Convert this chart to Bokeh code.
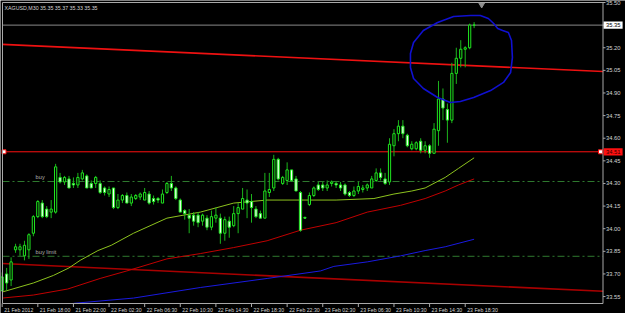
from bokeh.plotting import figure
from bokeh.models import Range1d, ColumnDataSource
from bokeh.core.properties import value
from bokeh.embed import file_html
from bokeh.resources import INLINE

# ---------------- data ----------------
chart_title = "XAGUSD,M30  35.35 35.37 35.33 35.35"

bar_high = [33.71, 33.74, 33.81, 33.90, 33.90, 33.92, 33.97, 34.09, 34.19, 34.19,
            34.15, 34.19, 34.43, 34.37, 34.35, 34.35, 34.34, 34.37, 34.39, 34.36,
            34.32, 34.35, 34.32, 34.28, 34.28, 34.27, 34.23, 34.23, 34.24, 34.23,
            34.23, 34.24, 34.27, 34.25, 34.22, 34.21, 34.26, 34.31, 34.35, 34.28,
            34.20, 34.13, 34.13, 34.11, 34.11, 34.10, 34.09, 34.12, 34.14, 34.10,
            34.08, 34.08, 34.15, 34.17, 34.27, 34.26, 34.23, 34.15, 34.12, 34.37,
            34.37, 34.49, 34.47, 34.35, 34.44, 34.39, 34.35, 34.25, 34.08, 34.24,
            34.28, 34.31, 34.31, 34.32, 34.32, 34.31, 34.31, 34.30, 34.25, 34.28,
            34.31, 34.29, 34.30, 34.35, 34.40, 34.40, 34.37, 34.60, 34.66, 34.72,
            34.72, 34.63, 34.58, 34.58, 34.60, 34.58, 34.56, 34.70, 34.98, 34.93,
            34.83, 35.10, 35.20, 35.25, 35.21, 35.36, 35.37]
bar_open = [33.59, 33.70, 33.66, 33.86, 33.86, 33.82, 33.86, 33.97, 34.08, 34.17,
            34.13, 34.11, 34.11, 34.34, 34.31, 34.33, 34.30, 34.29, 34.33, 34.35,
            34.30, 34.30, 34.30, 34.27, 34.23, 34.27, 34.14, 34.19, 34.22, 34.17,
            34.20, 34.21, 34.19, 34.23, 34.20, 34.20, 34.17, 34.24, 34.30, 34.27,
            34.19, 34.12, 34.09, 34.09, 34.09, 34.05, 34.07, 34.01, 34.07, 34.07,
            33.97, 34.05, 34.02, 34.10, 34.13, 34.19, 34.18, 34.13, 34.10, 34.07,
            34.24, 34.27, 34.46, 34.30, 34.32, 34.39, 34.33, 34.24, 34.075, 34.16,
            34.22, 34.29, 34.29, 34.27, 34.30, 34.30, 34.29, 34.29, 34.24, 34.22,
            34.25, 34.26, 34.27, 34.27, 34.32, 34.37, 34.33, 34.31, 34.55, 34.63,
            34.68, 34.62, 34.53, 34.53, 34.58, 34.52, 34.55, 34.50, 34.65, 34.86,
            34.79, 34.72, 35.03, 35.13, 35.19, 35.20, 35.35]
bar_close = [33.68, 33.64, 33.78, 33.88, 33.88, 33.89, 33.96, 34.08, 34.18, 34.08,
             34.08, 34.13, 34.41, 34.31, 34.34, 34.27, 34.29, 34.34, 34.37, 34.27,
             34.27, 34.34, 34.24, 34.24, 34.26, 34.14, 34.19, 34.22, 34.17, 34.21,
             34.22, 34.23, 34.24, 34.17, 34.18, 34.19, 34.23, 34.30, 34.27, 34.20,
             34.11, 34.10, 34.07, 34.05, 34.04, 34.09, 34.01, 34.08, 34.09, 33.97,
             34.06, 34.01, 34.10, 34.14, 34.20, 34.17, 34.14, 34.08, 34.07, 34.25,
             34.26, 34.46, 34.33, 34.34, 34.39, 34.32, 34.25, 33.99, 34.07, 34.22,
             34.27, 34.26, 34.27, 34.29, 34.31, 34.29, 34.27, 34.23, 34.22, 34.25,
             34.28, 34.27, 34.29, 34.33, 34.37, 34.34, 34.30, 34.56, 34.63, 34.68,
             34.63, 34.55, 34.56, 34.57, 34.52, 34.55, 34.50, 34.66, 34.86, 34.80,
             34.72, 35.03, 35.13, 35.19, 35.20, 35.35, 35.35]
bar_low = [33.58, 33.59, 33.62, 33.84, 33.82, 33.79, 33.80, 33.95, 34.07, 34.07,
           34.07, 34.07, 34.10, 34.30, 34.29, 34.27, 34.27, 34.27, 34.32, 34.27,
           34.27, 34.27, 34.23, 34.22, 34.21, 34.13, 34.13, 34.17, 34.17, 34.15,
           34.19, 34.19, 34.19, 34.16, 34.16, 34.17, 34.17, 34.23, 34.25, 34.19,
           34.11, 34.06, 33.97, 34.02, 34.01, 34.02, 33.99, 33.99, 34.04, 33.90,
           33.92, 33.94, 34.01, 33.97, 34.13, 34.07, 34.04, 34.07, 34.07, 34.07,
           34.21, 34.25, 34.32, 34.29, 34.29, 34.31, 34.25, 33.98, 34.065, 34.15,
           34.21, 34.25, 34.25, 34.25, 34.28, 34.27, 34.25, 34.22, 34.21, 34.21,
           34.23, 34.24, 34.25, 34.27, 34.31, 34.32, 34.29, 34.29, 34.48, 34.58,
           34.60, 34.54, 34.52, 34.52, 34.50, 34.50, 34.47, 34.50, 34.55, 34.72,
           34.57, 34.70, 34.96, 35.07, 35.07, 35.19, 35.33]

time_tick_index = [0, 8, 16, 24, 32, 40, 48, 56, 64, 72, 80, 88, 96, 104]
time_tick_labels = ["21 Feb 2012", "21 Feb 18:00", "21 Feb 22:00", "22 Feb 02:30",
                    "22 Feb 06:30", "22 Feb 10:30", "22 Feb 14:30", "22 Feb 18:30",
                    "22 Feb 22:30", "23 Feb 02:30", "23 Feb 06:30", "23 Feb 10:30",
                    "23 Feb 14:30", "23 Feb 18:30"]

price_ticks = [35.50, 35.35, 35.20, 35.05, 34.90, 34.75, 34.60, 34.45,
               34.30, 34.15, 34.00, 33.85, 33.70, 33.55]

# moving averages (bar index, price)
ma_green_index = [0, 7, 11.5, 15, 17.5, 21.5, 24.5, 29.5, 37, 44.5, 52, 59.5, 67, 75, 83.5,
                  88, 92, 95, 99.5, 102.5, 106]
ma_green_value = [33.58, 33.64, 33.69, 33.74, 33.79, 33.855, 33.89, 33.97, 34.07, 34.11, 34.17,
                  34.19, 34.19, 34.19, 34.20, 34.23, 34.25, 34.27, 34.34, 34.40, 34.47]
ma_red_index = [0, 7, 14.7, 22, 28, 37, 44.5, 52, 59.5, 67, 75, 82, 89.5, 95, 99.5, 102.5, 106]
ma_red_value = [33.54, 33.56, 33.60, 33.67, 33.72, 33.80, 33.835, 33.875, 33.92, 33.99,
                34.04, 34.11, 34.155, 34.20, 34.25, 34.29, 34.33]
ma_blue_index = [16, 29.5, 44.5, 59.5, 71.5, 74.5, 82, 89.5, 95, 99.5, 106]
ma_blue_value = [33.505, 33.54, 33.61, 33.67, 33.72, 33.75, 33.78, 33.82, 33.855, 33.88, 33.93]

# trend lines (bar index, price)
trend_upper_index = [0, 135]
trend_upper_value = [35.222, 35.042]
trend_lower_index = [0, 135]
trend_lower_value = [33.769, 33.585]

bid_price = 35.35
level_price = 34.51
level_label = "34.51"
buy_price = 34.313
buy_limit_price = 33.817
buy_label_index = 7.5

# hand-drawn circle around the breakout (bar index, price)
circle_index = [105.2, 107.4, 109.2, 110.4, 111.3, 112.4, 113.7, 114.4, 114.6, 114.2, 112.6,
                109.7, 105.9, 102.9, 100.7, 97.8, 94.6, 92.4, 91.7, 91.7, 92.4, 94.6, 97.8,
                101.4, 105.2]
circle_value = [35.414, 35.414, 35.394, 35.361, 35.328, 35.314, 35.301, 35.248, 35.135, 35.036,
                34.970, 34.916, 34.870, 34.843, 34.837, 34.870, 34.930, 34.996, 35.069, 35.162,
                35.235, 35.314, 35.367, 35.407, 35.414]

shift_marker_index = 107.7

# ---------------- geometry (screen layout of the MT4 window) ----------------
W, H = 625, 313
PX_PER_BAR = 4.452
PX_PER_UNIT = 150.8
BAR0_PX = 1.7          # pixel column of bar 0
TOP_PX = 2.0           # pixel row of the top price tick
TOP_PRICE = price_ticks[0]


def bx(px):
    return (px - BAR0_PX) / PX_PER_BAR


def py(pix):
    return TOP_PRICE - (pix - TOP_PX) / PX_PER_UNIT


plot_left, plot_right = bx(2.0), bx(602.5)
plot_top, plot_bottom = py(2.0), py(303.0)

FONT = "Liberation Sans"
AXIS_COL = "#a8a8a8"
TXT_COL = "#d4d4d4"

p = figure(width=W, height=H, min_border=0, x_axis_location=None, y_axis_location=None,
           x_range=Range1d(bx(0), bx(W)), y_range=Range1d(py(H), py(0)),
           output_backend="svg", toolbar_location=None,
           background_fill_color="black", border_fill_color="black")
p.grid.visible = False
p.outline_line_color = None

# trend lines and levels
p.line(trend_upper_index, trend_upper_value, line_color="#ee1111", line_width=1.6)
p.line(trend_lower_index, trend_lower_value, line_color="#a80000", line_width=1.6)
p.line([plot_left, plot_right], [bid_price, bid_price], line_color="#8a8a8a", line_width=1)
p.line([plot_left, plot_right], [level_price, level_price], line_color="#ff1010", line_width=1)
p.line([plot_left, plot_right], [buy_price, buy_price], line_color="#2f7a2f", line_width=1,
       line_dash="7 3 2 3")
p.line([plot_left, plot_right], [buy_limit_price, buy_limit_price], line_color="#2f7a2f",
       line_width=1, line_dash="7 3 2 3")
p.scatter([bx(3.5), bx(600.0)], [level_price, level_price], marker="square", size=4,
          fill_color="white", line_color="#ff1010", line_width=1)

# moving averages
p.line(ma_blue_index, ma_blue_value, line_color="#1a1ae0", line_width=1)
p.line(ma_red_index, ma_red_value, line_color="#c00000", line_width=1)
p.line(ma_green_index, ma_green_value, line_color="#8cc21e", line_width=1)

# candles
idx = list(range(len(bar_open)))
bull = [c >= o for o, c in zip(bar_open, bar_close)]
src = ColumnDataSource(dict(
    x=idx, high=bar_high, low=bar_low,
    top=[max(o, c) for o, c in zip(bar_open, bar_close)],
    bottom=[min(o, c) for o, c in zip(bar_open, bar_close)],
    fill=["black" if b else "#f4fff4" for b in bull]))
p.segment(x0="x", y0="high", x1="x", y1="low", source=src, line_color="#1cb41c", line_width=1)
p.vbar(x="x", width=0.5, top="top", bottom="bottom", source=src,
       fill_color="fill", line_color="#1fe61f", line_width=1)

# hand drawn circle
p.line(circle_index, circle_value, line_color="#1010d0", line_width=1.6)

# chart shift marker
p.scatter([shift_marker_index], [py(4.0)], marker="inverted_triangle", size=6,
          fill_color="#909090", line_color="#909090")

# window frame / axes
p.line([plot_left, plot_left, plot_right, plot_right, plot_left],
       [plot_bottom, plot_top, plot_top, plot_bottom, plot_bottom],
       line_color=AXIS_COL, line_width=1)

# right price scale
tick_len = 2.5 / PX_PER_BAR
p.segment(x0=[plot_right] * len(price_ticks), y0=price_ticks,
          x1=[plot_right + tick_len] * len(price_ticks), y1=price_ticks,
          line_color=AXIS_COL, line_width=1)
plain_ticks = [t for t in price_ticks if abs(t - bid_price) > 1e-9]
p.text(x=[plot_right] * len(plain_ticks), y=plain_ticks, text=[f"{t:.2f}" for t in plain_ticks],
       x_offset=3, text_font=value(FONT), text_font_size="5.8px", text_color=TXT_COL,
       text_baseline="middle", text_align="left")

# boxed price labels (bid and horizontal level)
box_l = plot_right + 0.6 / PX_PER_BAR
box_r = box_l + 19.0 / PX_PER_BAR
box_h = 3.6 / PX_PER_UNIT
p.quad(left=[box_l], right=[box_r], top=[bid_price + box_h], bottom=[bid_price - box_h],
       fill_color="white", line_color=None)
p.quad(left=[box_l], right=[box_r], top=[level_price + box_h], bottom=[level_price - box_h],
       fill_color="#ff1010", line_color=None)
p.text(x=[plot_right, plot_right], y=[bid_price, level_price], text=[f"{bid_price:.2f}", level_label],
       x_offset=3, text_font=value(FONT), text_font_size="5.8px", text_color=["black", "#300000"],
       text_baseline="middle", text_align="left")

# time scale
p.segment(x0=time_tick_index, y0=[plot_bottom] * len(time_tick_index),
          x1=time_tick_index, y1=[py(306.5)] * len(time_tick_index),
          line_color=AXIS_COL, line_width=1)
p.text(x=time_tick_index, y=[plot_bottom] * len(time_tick_index), text=time_tick_labels,
       x_offset=2, y_offset=3, text_font=value(FONT), text_font_size="5.2px",
       text_color=TXT_COL, text_baseline="top", text_align="left")

# texts inside the chart
p.text(x=[plot_left], y=[plot_top], text=[chart_title], x_offset=2, y_offset=2.5,
       text_font=value(FONT), text_font_size="5.3px", text_color=TXT_COL,
       text_baseline="top", text_align="left")
p.text(x=[buy_label_index, buy_label_index], y=[buy_price, buy_limit_price],
       text=["buy", "buy limit"], y_offset=-1, text_font=value(FONT), text_font_size="5.7px",
       text_color="#b0b0b0", text_baseline="bottom", text_align="left")

open("out.html", "w").write(file_html(p, INLINE))
